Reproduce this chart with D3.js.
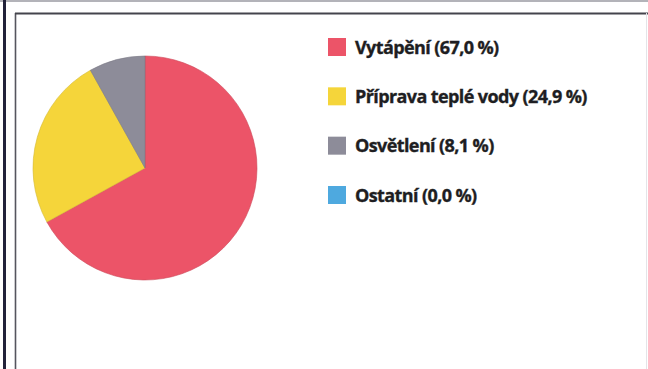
<!DOCTYPE html>
<html>
<head>
<meta charset="utf-8">
<script src="https://cdn.jsdelivr.net/npm/d3@7"></script>
<style>
  html, body { margin: 0; padding: 0; background: #fff; }
  svg { display: block; }
</style>
</head>
<body>
<svg id="chart" width="648" height="369"></svg>
<script>
// Energy consumption split by purpose
const categories = ["Vytápění", "Příprava teplé vody", "Osvětlení", "Ostatní"];
const shares = [67.0, 24.9, 8.1, 0.0];
const colors = ["#ec5468", "#f5d53a", "#8d8c99", "#4ea9df"];

const fmt = v => v.toFixed(1).replace(".", ",") + " %";

const svg = d3.select("#chart");
const W = 648, H = 369;

svg.append("rect").attr("width", W).attr("height", H).attr("fill", "#fff");

// Page frame: outer border and inner chart box
svg.append("line").attr("x1", 0).attr("x2", W).attr("y1", 1).attr("y2", 1)
  .attr("stroke", "#9a9aa2").attr("stroke-width", 1.5);
svg.append("line").attr("x1", 4.5).attr("x2", 4.5).attr("y1", 0).attr("y2", H)
  .attr("stroke", "#22223a").attr("stroke-width", 3);
svg.append("line").attr("x1", 15.5).attr("x2", 15.5).attr("y1", 13).attr("y2", H)
  .attr("stroke", "#55555e").attr("stroke-width", 1.6);
svg.append("line").attr("x1", 15).attr("x2", W).attr("y1", 13.5).attr("y2", 13.5)
  .attr("stroke", "#44444c").attr("stroke-width", 1.8);
svg.append("line").attr("x1", 646.5).attr("x2", 646.5).attr("y1", 13).attr("y2", H)
  .attr("stroke", "#e4e4e8").attr("stroke-width", 1);

// Pie
const cx = 145, cy = 168, r = 112;
const pie = d3.pie().sort(null).value(d => d.v);
const arc = d3.arc().innerRadius(0).outerRadius(r);
const data = categories.map((c, i) => ({ c, v: shares[i], col: colors[i] }));

svg.append("g").attr("transform", `translate(${cx},${cy})`)
  .selectAll("path")
  .data(pie(data).filter(d => d.data.v > 0))
  .join("path")
  .attr("d", arc)
  .attr("fill", d => d.data.col)
  .attr("stroke", d => d3.color(d.data.col).darker(0.4))
  .attr("stroke-width", 0.6);

// Legend
const legendY = d3.scalePoint().domain(categories).range([47, 195]);
const lg = svg.append("g");
const rows = lg.selectAll("g").data(data).join("g")
  .attr("transform", d => `translate(328,${legendY(d.c)})`);
rows.append("rect")
  .attr("x", 0).attr("y", -9).attr("width", 18).attr("height", 18)
  .attr("fill", d => d.col);
rows.append("text")
  .attr("x", 27).attr("y", 6.5)
  .attr("font-family", "'Open Sans', 'DejaVu Sans', sans-serif")
  .attr("font-weight", 700)
  .attr("font-size", 18)
  .attr("fill", "#1e1e22")
  .attr("stroke", "#1e1e22")
  .attr("stroke-width", 0.35)
  .attr("letter-spacing", -0.6)
  .text(d => `${d.c} (${fmt(d.v)})`);
</script>
</body>
</html>
